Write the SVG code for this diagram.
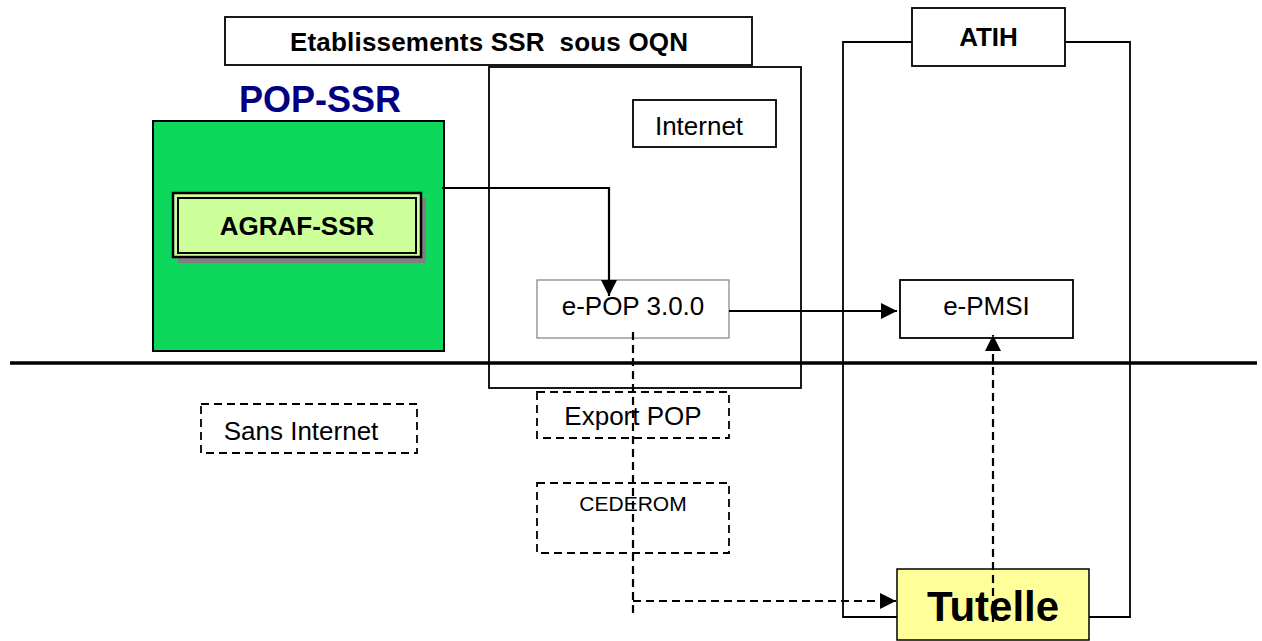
<svg xmlns="http://www.w3.org/2000/svg" width="1262" height="641" viewBox="0 0 1262 641">
<style>
text{font-family:"Liberation Sans",Arial,sans-serif;fill:#000;text-anchor:middle;white-space:pre}
.b{font-weight:bold;font-size:26px}
.r{font-size:26px}
.box{fill:#fff;stroke:#000;stroke-width:1.8}
.dbox{fill:none;stroke:#000;stroke-width:1.8;stroke-dasharray:8 5}
.ln{fill:none;stroke:#000;stroke-width:1.8}
.arr{fill:none;stroke:#000;stroke-width:2.2}
.dash{fill:none;stroke:#000;stroke-width:2.2;stroke-dasharray:8 5}
</style>
<defs>
<marker id="ah" viewBox="0 0 10 10" refX="10" refY="5" markerWidth="16" markerHeight="16" markerUnits="userSpaceOnUse" orient="auto">
<path d="M0,0 L10,5 L0,10 Z" fill="#000"/>
</marker>
</defs>
<rect width="1262" height="641" fill="#fff"/>
<g id="internet-frame"><rect x="489" y="67" width="312" height="321" class="ln" fill="none"/></g>
<g id="atih-frame"><path d="M912,42 H843 V617 H897 M1065,42 H1130 V617 H1089" class="ln"/></g>
<g id="separator"><line x1="10" y1="363" x2="1257" y2="363" stroke="#000" stroke-width="3.5"/></g>
<g id="etablissements"><rect x="225" y="17" width="527" height="48" class="box"/><text x="489" y="51" class="b" xml:space="preserve" textLength="398" lengthAdjust="spacing">Etablissements SSR  sous OQN</text></g>
<g id="pop-ssr">
<text x="320" y="112" font-size="36" font-weight="bold" style="fill:#000080">POP-SSR</text>
<rect x="153" y="121" width="291" height="230" fill="#0DD85B" stroke="#000" stroke-width="2"/>
</g>
<g id="agraf-ssr">
<rect x="178" y="198" width="248" height="65" fill="#808080"/>
<rect x="173" y="193" width="248" height="64" fill="#CCFF99" stroke="#000" stroke-width="2.5"/>
<rect x="178" y="198" width="238" height="55" fill="#CCFF99" stroke="#000" stroke-width="2"/>
<text x="297" y="235" class="b">AGRAF-SSR</text>
</g>
<g id="internet"><rect x="633" y="100" width="143" height="47" class="box"/><text x="699" y="135" class="r">Internet</text></g>
<g id="atih"><rect x="912" y="8" width="153" height="58" class="box"/><text x="988.5" y="46" class="b">ATIH</text></g>
<g id="e-pop"><rect x="537" y="280" width="192" height="58" fill="#fff" stroke="#808080" stroke-width="1.2"/><text x="633" y="315" class="r">e-POP 3.0.0</text></g>
<g id="e-pmsi"><rect x="900" y="280" width="173" height="58" class="box"/><text x="986.5" y="315" class="r">e-PMSI</text></g>
<g id="export-pop"><rect x="537" y="392" width="192" height="46" class="dbox"/><text x="633" y="425" class="r">Export POP</text></g>
<g id="cederom"><rect x="537" y="483" width="192" height="70" class="dbox"/><text x="633" y="511" font-size="21">CEDEROM</text></g>
<g id="sans-internet"><rect x="201" y="404" width="216" height="49" class="dbox"/><text x="301" y="440" class="r">Sans Internet</text></g>
<g id="tutelle"><rect x="897" y="569" width="192" height="71" fill="#FFFF99" stroke="#000" stroke-width="1.5"/><text x="993" y="621" font-size="42" font-weight="bold">Tutelle</text></g>
<g id="connectors">
<path d="M442,188 H609 V296" class="arr" marker-end="url(#ah)"/>
<path d="M729,311 H897" class="arr" marker-end="url(#ah)"/>
<path d="M633,332 V613" class="dash"/>
<path d="M633,601 H896" class="dash" marker-end="url(#ah)"/>
<path d="M993,622 V335" class="dash" marker-end="url(#ah)"/>
</g>
</svg>
